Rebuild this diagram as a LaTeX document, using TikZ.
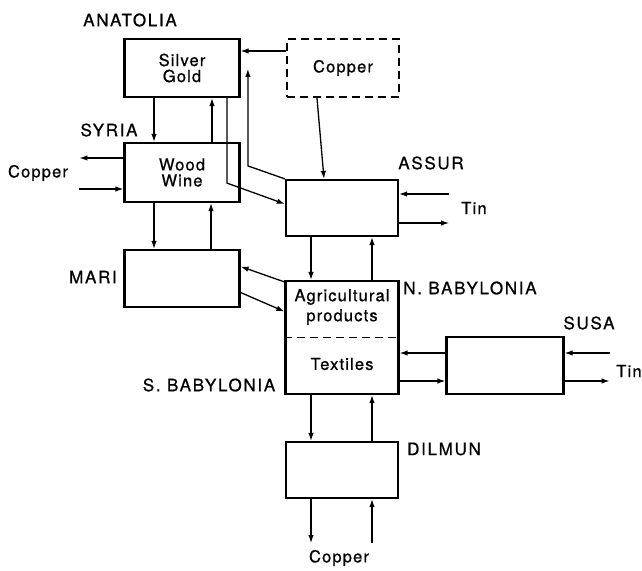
\documentclass[tikz,border=0pt]{standalone}
\usepackage{fontspec}
\setmainfont{TeX Gyre Heros}
\newfontfamily\placefont{TeX Gyre Heros}[LetterSpace=10,FakeBold=0.8]
\newfontfamily\warefont{TeX Gyre Heros}[LetterSpace=7,FakeBold=0.8]
\usetikzlibrary{arrows.meta}
\tikzset{arr/.style={-{Latex[length=8pt,width=5.5pt]},line width=1.3pt},
  rarr/.style={{Latex[length=8pt,width=5.5pt]}-,line width=1.3pt}}

\begin{document}
\begin{tikzpicture}[x=1pt,y=-1pt,
  region/.style={draw,line width=2.2pt,minimum width=115pt,minimum height=57pt,inner sep=0pt,align=center,font=\warefont\fontsize{16.5}{19}\selectfont},
  place/.style={font=\placefont\fontsize{17}{20}\selectfont,inner sep=0pt},
  ware/.style={font=\warefont\fontsize{16.5}{19}\selectfont,inner sep=0pt,align=center}]
\useasboundingbox (0,0) rectangle (642,570);
% boxes
\node[region,minimum height=58pt] (anat) at (182,68) {Silver\\[-3pt]Gold};
\node[region,minimum height=58pt,minimum width=112pt,dash pattern=on 8pt off 5pt] (copper) at (343,68) {Copper};
\node[region,minimum height=59pt] (syria) at (182,172.5) {Wood\\[-3pt]Wine};
\node[region] (mari) at (182,278.5) {};
\node[region,minimum width=112pt,minimum height=56pt] (assur) at (342,208) {};
\node[region,minimum width=113pt,minimum height=113pt] (bab) at (342,337.5) {};
\node[region,minimum width=117pt] (susa) at (505,365.5) {};
\node[region,minimum width=112pt,minimum height=56pt] (dilmun) at (342,470) {};
\draw[dash pattern=on 8pt off 5pt,line width=1.3pt] (bab.west) -- (bab.east);
\node[ware] (agri) at (342,307) {Agricultural\\[1pt]products};
\node[ware] (textiles) at (342,364) {Textiles};
% region names
\node[place] (lanat) at (130,20) {ANATOLIA};
\node[place] (lsyria) at (109,130) {SYRIA};
\node[place] (lmari) at (93,277) {MARI};
\node[place] (lassur) at (431,163) {ASSUR};
\node[place] (lnbab) at (470,288) {N. BABYLONIA};
\node[place] (lsbab) at (209,385) {S. BABYLONIA};
\node[place] (lsusa) at (589,323) {SUSA};
\node[place] (ldilmun) at (444,449) {DILMUN};
% goods
\node[ware] (wcopw) at (38,173) {Copper};
\node[ware] (wtina) at (474,208) {Tin};
\node[ware] (wtins) at (629,371) {Tin};
\node[ware] (wcops) at (339,558) {Copper};
% flows between stacked boxes
\foreach \a/\b/\dn/\up in {anat/syria/28/30,syria/mari/28/29,assur/bab/31/30,bab/dilmun/31/30}{
  \draw[arr] ([xshift=-\dn pt]\a.south) -- ([xshift=-\dn pt]\b.north);
  \draw[rarr] ([xshift=\up pt]\a.south) -- ([xshift=\up pt]\b.north);}
\draw[arr] ([yshift=17pt]copper.west) -- ([yshift=17pt]anat.east);
\draw[arr] ([xshift=-26pt]copper.south) -- ([xshift=-18pt]assur.north);
\draw[arr] ([xshift=45pt]anat.south) -- ++(0,85) -- ([yshift=4pt]assur.west);
\draw[arr] (assur.north west) -- ++(-37,-13) -- ++(0,-97);
\draw[arr] ([yshift=14.5pt]syria.west) -- ++(-44,0);
\draw[rarr] ([yshift=-16.5pt]syria.west) -- ++(-44,0);
\draw[rarr] ([yshift=14pt]assur.east) -- ++(50,0);
\draw[arr] ([yshift=-15pt]assur.east) -- ++(50,0);
\draw[arr] ([yshift=-2pt]bab.north west) -- ([yshift=12pt]mari.east);
\draw[arr] ([yshift=-14pt]mari.east) -- ([yshift=26pt]bab.west);
\draw[arr] ([yshift=12.5pt]susa.west) -- ([yshift=-15.5pt]bab.east);
\draw[arr] ([yshift=-43.5pt]bab.east) -- ([yshift=-15.5pt]susa.west);
\draw[rarr] ([yshift=12.5pt]susa.east) -- ++(45,0);
\draw[arr] ([yshift=-15.5pt]susa.east) -- ++(45,0);
\draw[arr] ([xshift=-31pt]dilmun.south) -- ++(0,44);
\draw[rarr] ([xshift=30pt]dilmun.south) -- ++(0,44);
\end{tikzpicture}
\end{document}
